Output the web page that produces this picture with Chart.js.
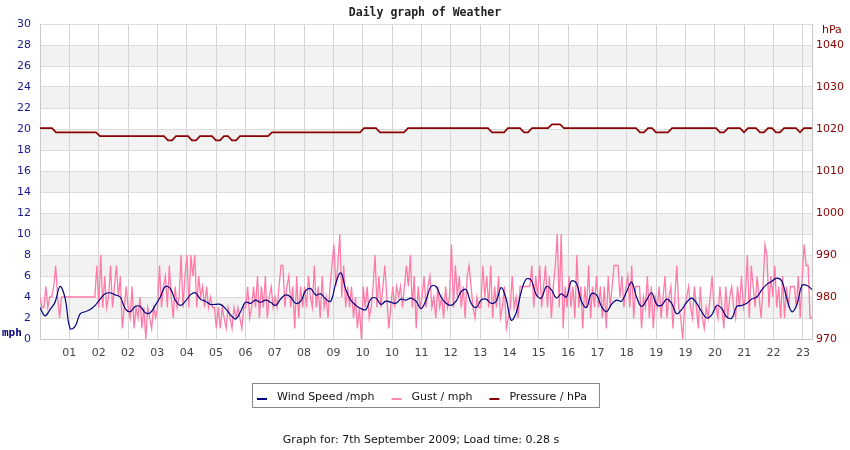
<!DOCTYPE html>
<html><head><meta charset="utf-8">
<script src="https://cdn.jsdelivr.net/npm/chart.js@4.4.0/dist/chart.umd.min.js"></script>
<style>html,body{margin:0;padding:0;background:#fff;}canvas{display:block;}</style>
</head><body>
<canvas id="c" width="850" height="450"></canvas>
<script>
const chartTitle = 'Daily graph of Weather';
const footerText = 'Graph for: 7th September 2009; Load time: 0.28 s';
const leftUnit = 'mph';
const rightUnit = 'hPa';
const xTickLabels = ['01','02','02','03','04','05','06','07','08','09','10','10','11','12','13','14','15','16','17','18','19','19','20','21','22','23'];
const xTickValues = [1,2,3,4,5,6,7,8,9,10,11,12,13,14,15,16,17,18,19,20,21,22,23,24,25,26];
const xMax = 26.31;
const mphTicks = [0,2,4,6,8,10,12,14,16,18,20,22,24,26,28,30];
const hPaTicks = [970,980,990,1000,1010,1020,1030,1040];

const windSpeed = [
 3.0,2.2,2.8,3.5,5.0,3.9,1.0,1.2,2.4,2.6,
 2.8,3.2,3.8,4.3,4.4,4.2,4.0,2.9,2.6,3.1,
 3.1,2.5,2.5,3.2,4.0,5.0,4.8,3.7,3.2,3.6,
 4.2,4.4,3.8,3.6,3.3,3.3,3.3,2.9,2.3,1.9,
 2.6,3.5,3.4,3.7,3.5,3.7,3.5,3.2,3.8,4.2,
 4.0,3.4,3.6,4.6,4.8,4.2,4.3,3.8,3.6,5.3,
 6.3,4.7,3.7,3.2,2.9,2.8,3.8,3.9,3.3,3.6,
 3.5,3.4,3.8,3.7,3.9,3.6,2.9,3.7,5.0,5.0,
 4.0,3.4,3.2,3.6,4.5,4.7,3.4,3.0,3.7,3.8,
 3.4,3.6,4.9,3.8,1.8,2.5,4.5,5.7,5.6,4.2,
 3.9,5.0,4.7,3.9,4.3,4.0,5.5,5.3,3.6,3.0,
 4.3,4.2,3.1,2.6,3.3,3.7,3.6,4.5,5.4,4.0,
 3.1,3.7,4.4,3.3,3.2,3.8,3.4,2.4,2.8,3.5,
 3.9,3.4,2.6,2.0,2.3,3.2,2.9,2.1,2.0,3.1,
 3.2,3.4,3.8,4.0,4.7,5.2,5.5,5.8,5.5,3.8,
 2.6,3.3,5.1,5.1,4.7
];

const gust = [
 4,3,3,5,3,4,4,5,7,4,2,4,4,4,4,
 4,4,4,4,4,4,4,4,4,4,4,4,4,4,7,
 3,8,3,6,3,4,7,3,5,7,4,6,1,3,5,
 3,2,5,1,3,2,4,1,3,0,3,2,1,3,2,
 3,7,3,5,6,3,7,4,2,5,3,4,8,3,6,
 8,3,8,6,8,3,6,4,5,3,5,3,4,3,3,
 1,3,1,3,2,1,3,2,1,3,2,3,2,1,3,
 3,5,2,3,5,3,6,2,5,3,6,2,4,5,3,
 4,3,5,7,7,3,5,6,3,5,1,6,2,5,3,
 5,3,6,4,3,7,3,5,2,6,3,4,2,5,7,
 9,5,7,10,4,7,3,5,3,5,2,4,1,3,0,
 5,3,5,2,3,5,8,3,6,3,5,7,4,1,3,
 5,3,5,4,5,3,5,7,5,8,3,6,1,5,3,
 4,6,3,5,6,3,4,2,5,3,4,2,5,3,4,
 9,3,7,4,6,3,5,2,6,7,5,3,2,4,3,
 3,7,4,6,3,7,2,5,3,6,2,3,5,1,2,
 3,6,3,4,2,5,5,5,5,5,5,7,3,6,4,
 7,3,5,7,3,6,2,5,7,10,3,10,1,5,3,
 6,3,5,2,8,3,5,1,5,3,7,2,5,3,6,
 3,5,2,5,1,6,3,5,7,7,7,4,6,3,5,
 6,3,7,2,5,5,5,1,4,3,6,2,5,1,4,
 3,5,2,4,6,2,4,5,1,4,7,3,2,0,3,
 4,5,3,2,5,3,1,5,2,1,3,2,4,6,3,
 3,2,5,3,1,5,2,4,5,3,2,5,3,6,3,
 4,8,2,7,5,3,6,4,2,5,9,8,3,6,4,
 7,3,5,2,6,2,5,3,5,5,5,3,6,2,6,
 9,7,7,2,2
];

const pressure = [
 1020.2,1020.2,1020.2,1020.2,
 1019.2,1019.2,1019.2,1019.2,1019.2,1019.2,1019.2,1019.2,1019.2,1019.2,1019.2,
 1018.3,1018.3,1018.3,1018.3,1018.3,1018.3,1018.3,1018.3,1018.3,1018.3,1018.3,1018.3,1018.3,1018.3,1018.3,1018.3,1018.3,
 1017.3,1017.3,
 1018.3,1018.3,1018.3,1018.3,
 1017.3,1017.3,
 1018.3,1018.3,1018.3,1018.3,
 1017.3,1017.3,
 1018.3,1018.3,
 1017.3,1017.3,
 1018.3,1018.3,1018.3,1018.3,1018.3,1018.3,1018.3,1018.3,
 1019.2,1019.2,1019.2,1019.2,1019.2,1019.2,1019.2,1019.2,1019.2,1019.2,1019.2,1019.2,1019.2,1019.2,1019.2,1019.2,1019.2,1019.2,1019.2,1019.2,1019.2,1019.2,1019.2,
 1020.2,1020.2,1020.2,1020.2,
 1019.2,1019.2,1019.2,1019.2,1019.2,1019.2,1019.2,
 1020.2,1020.2,1020.2,1020.2,1020.2,1020.2,1020.2,1020.2,1020.2,1020.2,1020.2,1020.2,1020.2,1020.2,1020.2,1020.2,1020.2,1020.2,1020.2,1020.2,1020.2,
 1019.2,1019.2,1019.2,1019.2,
 1020.2,1020.2,1020.2,1020.2,
 1019.2,1019.2,
 1020.2,1020.2,1020.2,1020.2,1020.2,
 1021.1,1021.1,1021.1,
 1020.2,1020.2,1020.2,1020.2,1020.2,1020.2,1020.2,1020.2,1020.2,1020.2,1020.2,1020.2,1020.2,1020.2,1020.2,1020.2,1020.2,1020.2,1020.2,
 1019.2,1019.2,
 1020.2,1020.2,
 1019.2,1019.2,1019.2,1019.2,
 1020.2,1020.2,1020.2,1020.2,1020.2,1020.2,1020.2,1020.2,1020.2,1020.2,1020.2,1020.2,
 1019.2,1019.2,
 1020.2,1020.2,1020.2,1020.2,
 1019.2,
 1020.2,1020.2,1020.2,
 1019.2,1019.2,
 1020.2,1020.2,
 1019.2,1019.2,
 1020.2,1020.2,1020.2,1020.2,
 1019.2,
 1020.2,1020.2,1020.2
];

function toPoints(arr){
  const n = arr.length;
  return arr.map((v,i)=>({x: i*xMax/(n-1), y: v}));
}

const decor = {
  id: 'decor',
  beforeDraw(chart){
    const {ctx, chartArea:a, scales:{y}} = chart;
    ctx.save();
    ctx.fillStyle = '#fff';
    ctx.fillRect(0,0,chart.width,chart.height);
    ctx.fillStyle = '#f2f2f2';
    for (let i = 1; i < mphTicks.length-1; i += 2){
      const top = y.getPixelForValue(mphTicks[i+1]);
      const bot = y.getPixelForValue(mphTicks[i]);
      ctx.fillRect(a.left, top, a.right-a.left, bot-top);
    }
    ctx.restore();
  },
  afterDraw(chart){
    const {ctx} = chart;
    ctx.save();
    ctx.font = 'bold 11.5px "DejaVu Sans Mono"';
    ctx.fillStyle = '#222';
    ctx.textAlign = 'center'; ctx.textBaseline = 'middle';
    ctx.fillText(chartTitle, 425, 13);
    ctx.font = 'bold 11px "DejaVu Sans Mono"';
    ctx.fillStyle = '#000080';
    ctx.textAlign = 'left';
    ctx.fillText(leftUnit, 2, 333);
    ctx.font = '11px "DejaVu Sans"';
    ctx.fillStyle = '#8b0000';
    ctx.fillText(rightUnit, 822, 30);
    ctx.font = '11px "DejaVu Sans"';
    let x = 257; const yMid = 397;
    chart.data.datasets.forEach(d=>{
      ctx.fillStyle = d.legendColor;
      ctx.fillRect(x, yMid+1, 10, 2);
      ctx.fillStyle = '#111';
      ctx.textAlign = 'left';
      ctx.fillText(d.label, x+20, yMid);
      x += 20 + ctx.measureText(d.label).width + 17;
    });
    ctx.strokeStyle = '#888'; ctx.lineWidth = 1;
    ctx.strokeRect(252.5, 383.5, 347, 24);
    ctx.fillStyle = '#111';
    ctx.textAlign = 'center';
    ctx.fillText(footerText, 421, 440);
    ctx.restore();
  }
};

new Chart(document.getElementById('c'), {
  type: 'line',
  data: {
    datasets: [
      {label:'Wind Speed /mph', data: toPoints(windSpeed), borderColor:'#000080', legendColor:'#000080', borderWidth:1.2, pointRadius:0, tension:0.4, yAxisID:'y'},
      {label:'Gust / mph', data: toPoints(gust), borderColor:'#ff7aa6', legendColor:'#ff88aa', borderWidth:1.3, pointRadius:0, tension:0, yAxisID:'y'},
      {label:'Pressure / hPa', data: toPoints(pressure), borderColor:'#8b0000', legendColor:'#8b0000', borderWidth:1.6, pointRadius:0, tension:0, yAxisID:'y2'}
    ]
  },
  options: {
    responsive:false, animation:false, devicePixelRatio:1,
    layout:{padding:{top:24, bottom:85, left:0, right:0}},
    plugins:{legend:{display:false}, tooltip:{enabled:false}, title:{display:false}},
    scales:{
      x:{type:'linear', min:0, max:xMax,
        afterBuildTicks: s => { s.ticks = xTickValues.map(v=>({value:v})); },
        afterFit: s => { s.height = 26; },
        ticks:{callback:(v,i)=>xTickLabels[i], color:'#444', font:{family:'DejaVu Sans', size:11}, padding:8, maxRotation:0, autoSkip:false},
        grid:{color:'#d4d4d4', drawTicks:false},
        border:{color:'#c8c8c8'}
      },
      y:{position:'left', min:0, max:30,
        afterBuildTicks: s => { s.ticks = mphTicks.map(v=>({value:v})); },
        afterFit: s => { s.width = 40; },
        ticks:{callback:v=>String(v), color:'#1a1a8c', font:{family:'DejaVu Sans', size:11}, padding:9},
        grid:{color:'#dcdcdc', drawTicks:false},
        border:{color:'#c8c8c8'}
      },
      y2:{position:'right', min:970, max:1045,
        afterBuildTicks: s => { s.ticks = hPaTicks.map(v=>({value:v})); },
        afterFit: s => { s.width = 38; },
        ticks:{callback:v=>String(v), color:'#8b0000', font:{family:'DejaVu Sans', size:11}, padding:4},
        grid:{drawOnChartArea:false, drawTicks:false},
        border:{color:'#c8c8c8'}
      }
    }
  },
  plugins:[decor]
});
</script>
</body></html>
